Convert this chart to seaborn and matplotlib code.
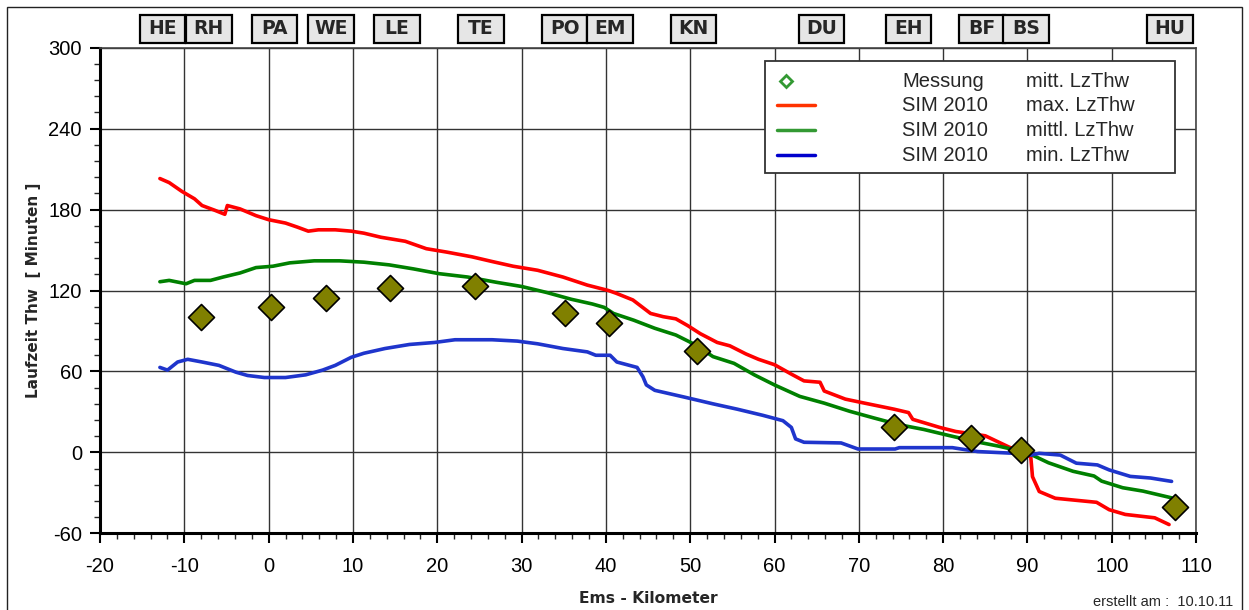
import matplotlib
matplotlib.use('Agg')
import matplotlib.pyplot as plt
import seaborn as sns
import matplotlib.transforms as mtransforms
from matplotlib.patches import Rectangle
from matplotlib.lines import Line2D
from matplotlib.ticker import MultipleLocator

# ---------------- data ----------------
stations = ['HE', 'RH', 'PA', 'WE', 'LE', 'TE', 'PO', 'EM', 'KN', 'DU', 'EH', 'BF', 'BS', 'HU']
station_km = [-12.6, -7.1, 0.7, 7.4, 15.2, 25.2, 35.1, 40.5, 50.4, 65.6, 75.9, 84.6, 89.8, 106.9]

meas_km = [-8.0, 0.3, 6.8, 14.4, 24.5, 35.2, 40.4, 50.8, 74.2, 83.3, 89.2, 107.5]
meas_min = [100.7, 108.1, 114.4, 122.2, 123.7, 103.7, 95.9, 75.3, 18.5, 10.4, 2.0, -40.4]

red_km = [-12.9, -11.8, -10.3, -8.8, -7.9, -6.4, -5.2, -4.9, -3.4, -1.5, 0, 2.0, 3.4, 4.7, 5.9, 7.9,
          9.8, 11.3, 13.3, 16.2, 18.7, 21.1, 24.1, 26.5, 29.0, 31.9, 34.9, 37.8, 40.3, 41.2, 43.2,
          45.3, 46.8, 48.3, 49.7, 51.2, 53.2, 54.7, 56.6, 58.1, 60.0, 62.0, 63.5, 65.4, 65.9, 68.4,
          70.3, 74.2, 75.9, 76.4, 79.6, 81.5, 85.0, 87.9, 89.9, 90.4, 90.6, 91.4, 93.3, 98.2, 99.7,
          101.6, 105.1, 106.8]
red_min = [203, 200, 193.5, 188, 183, 179.5, 176.5, 183, 180.5, 175.5, 172.5, 170, 167, 164, 165, 165,
           164, 162.5, 159.5, 156.5, 151, 148.5, 145, 141.5, 138, 135, 130, 124, 120, 118, 113,
           103, 100.6, 99, 94, 88, 81.5, 79, 73, 69, 65, 58, 53, 52, 45.5, 39.5,
           37, 32, 29.5, 24.5, 18.5, 15.5, 12.3, 3.7, -1, -3.5, -18, -29, -34, -37, -42.5,
           -46, -48.5, -53.5]

green_km = [-12.9, -11.8, -9.8, -8.8, -6.9, -5.4, -3.4, -1.5, 0.5, 2.5, 5.4, 8.4, 11.3, 14.3, 17.2,
            20.2, 23.6, 27.1, 30.0, 33.0, 35.9, 38.4, 39.8, 40.9, 43.3, 45.8, 48.3, 50.7, 52.7, 55.2,
            57.6, 60.0, 63.0, 65.9, 68.9, 71.8, 74.8, 77.7, 80.7, 83.6, 86.6, 90.0, 92.5, 95.4, 97.9,
            98.8, 101.3, 103.7, 107.1]
green_min = [126.5, 127.5, 125, 127.5, 127.5, 130, 133, 137, 138, 140.5, 142, 142, 141, 139, 136,
             132.5, 130, 126, 123, 118.5, 113.5, 110, 107.5, 103, 98, 92, 87, 79.5, 71, 66,
             57.5, 50, 41.5, 36.5, 30.5, 25.5, 20.5, 17, 12.5, 8.3, 4.6, -0.3, -7.7, -14, -17.5,
             -21.3, -26.2, -28.7, -33.7]

blue_km = [-12.9, -12.0, -10.8, -9.6, -7.9, -5.9, -3.9, -2.5, -0.5, 2.0, 4.4, 6.4, 7.9, 9.8, 11.3,
           13.8, 16.7, 19.7, 22.1, 26.5, 29.5, 31.9, 34.9, 37.8, 38.8, 40.5, 41.3, 41.9, 43.7, 44.4,
           44.8, 45.8, 49.3, 52.7, 55.6, 58.6, 61.0, 62.0, 62.5, 63.5, 67.9, 69.9, 74.3, 74.8, 81.1,
           84.1, 88.5, 90.4, 91.4, 93.9, 95.8, 98.3, 99.7, 102.2, 104.6, 107.1]
blue_min = [63, 61, 67, 69, 67, 64.5, 59.5, 57, 55.5, 55.5, 57.5, 61, 64.5, 70.5, 73.5,
            77, 80, 81.5, 83.5, 83.5, 82.5, 80.5, 77, 74.5, 72, 72, 67, 66, 63, 56,
            50, 46, 41, 36, 32, 27.5, 23.5, 18.5, 10, 7.5, 7, 2.5, 2.5, 3.5, 3.5,
            0.6, -0.7, -2, -0.7, -2, -8, -9.3, -13, -17.8, -19, -21.5]

legend_col1 = ['Messung', 'SIM 2010', 'SIM 2010', 'SIM 2010']
legend_col2 = ['mitt. LzThw', 'max. LzThw', 'mittl. LzThw', 'min. LzThw']

# ---------------- style ----------------
sns.set_style('white')
REG = ['Liberation Sans', 'DejaVu Sans']
BOLD = ['DejaVu Sans']
plt.rcParams['font.family'] = REG
plt.rcParams['axes.unicode_minus'] = False

fig = plt.figure(figsize=(12.49, 6.10), dpi=100)
ax = fig.add_axes([0.0801, 0.1257, 0.8775, 0.7961])

sns.lineplot(x=red_km, y=red_min, color='#ff0000', lw=2.6, sort=False, estimator=None, ax=ax, zorder=3)
sns.lineplot(x=green_km, y=green_min, color='#008000', lw=2.6, sort=False, estimator=None, ax=ax, zorder=3)
sns.lineplot(x=blue_km, y=blue_min, color='#1f35cc', lw=2.6, sort=False, estimator=None, ax=ax, zorder=3)
sns.scatterplot(x=meas_km, y=meas_min, marker='D', s=175, color='#808000', edgecolor='black',
                linewidth=1.2, ax=ax, zorder=4)

ax.set_xlim(-20, 110)
ax.set_ylim(-60, 300)
ax.xaxis.set_major_locator(MultipleLocator(10))
ax.xaxis.set_minor_locator(MultipleLocator(2))
ax.yaxis.set_major_locator(MultipleLocator(60))
ax.yaxis.set_minor_locator(MultipleLocator(12))
ax.grid(which='major', color='#333333', lw=1.0, zorder=1)
ax.set_axisbelow(True)
ax.tick_params(which='major', direction='out', length=7, width=1.5, labelsize=14.5,
               bottom=True, left=True, colors='black')
ax.tick_params(axis='x', which='major', pad=10)
ax.tick_params(axis='y', which='major', pad=6)
ax.tick_params(which='minor', direction='out', length=4, width=1.0, bottom=True, left=True)
for s in ['left', 'bottom']:
    ax.spines[s].set_linewidth(2.2)
    ax.spines[s].set_color('black')
for s in ['top', 'right']:
    ax.spines[s].set_linewidth(1.2)
    ax.spines[s].set_color('#444444')
ax.set_xlabel('')
ax.set_ylabel('')

# station boxes above the plot
trans = mtransforms.blended_transform_factory(ax.transData, ax.transAxes)
for name, km in zip(stations, station_km):
    ax.add_patch(Rectangle((km - 2.7, 1.009), 5.4, 0.059, transform=trans, facecolor='#e6e6e6',
                           edgecolor='black', lw=1.6, clip_on=False, zorder=5))
    ax.text(km, 1.039, name, transform=trans, ha='center', va='center', fontsize=13.5,
            fontweight='bold', family=BOLD, clip_on=False, zorder=6)

# legend (drawn manually, two text columns)
ax.add_patch(Rectangle((0.607, 0.741), 0.374, 0.232, transform=ax.transAxes, facecolor='white',
                       edgecolor='#333333', lw=1.3, zorder=7))
rows_y = [0.931, 0.882, 0.830, 0.779]
ax.add_line(Line2D([0.626], [rows_y[0]], marker='D', ms=6, mfc='none', mec='#339933', mew=2.0,
                   transform=ax.transAxes, zorder=8))
for y, c in zip(rows_y[1:], ['#ff3300', '#339933', '#0000cc']):
    ax.add_line(Line2D([0.618, 0.652], [y, y], color=c, lw=2.5, transform=ax.transAxes, zorder=8))
for y, t1, t2 in zip(rows_y, legend_col1, legend_col2):
    ax.text(0.732, y, t1, transform=ax.transAxes, ha='left', va='center', fontsize=14.5, zorder=8)
    ax.text(0.845, y, t2, transform=ax.transAxes, ha='left', va='center', fontsize=14.5, zorder=8)

# axis titles and footer
fig.text(0.027, 0.524, 'Laufzeit Thw  [ Minuten ]', rotation=90, ha='center', va='center',
         fontsize=11, fontweight='bold', family=BOLD)
fig.text(0.519, 0.019, 'Ems - Kilometer', ha='center', va='center', fontsize=11.2,
         fontweight='bold', family=BOLD)
fig.text(0.987, 0.013, 'erstellt am :  10.10.11', ha='right', va='center', fontsize=10.5)

# outer frame
fig.patches.append(Rectangle((7 / 1249, -0.05), (1242 - 7) / 1249, (610 - 7) / 610 + 0.05,
                             transform=fig.transFigure, fill=False, edgecolor='#222222', lw=1.0))

fig.savefig('out.png', dpi=100)
